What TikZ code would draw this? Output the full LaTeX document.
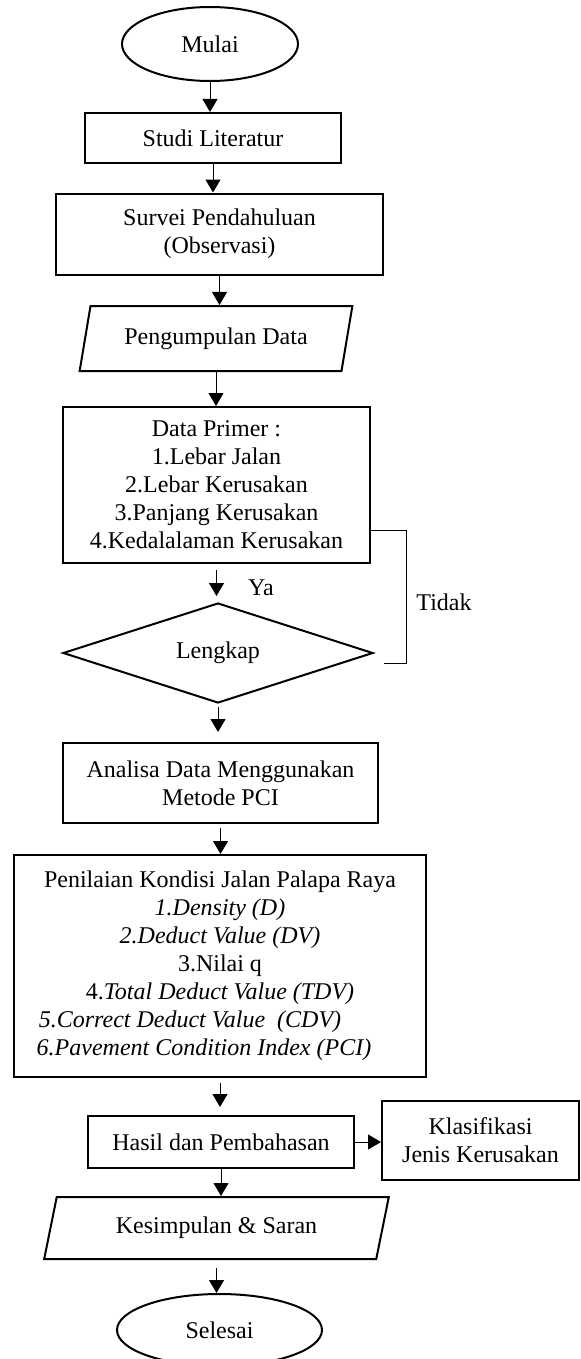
\documentclass[tikz,border=0pt]{standalone}
\usepackage{fontspec}
\setmainfont{Liberation Serif}
\usetikzlibrary{shapes.geometric,arrows.meta}
\begin{document}
\begin{tikzpicture}[x=0.5pt,y=-0.5pt,
    every node/.style={font=\fontsize{12pt}{14pt}\selectfont},
    box/.style={draw,line width=1pt,align=center,inner sep=0pt},
    term/.style={draw,ellipse,line width=1pt,inner sep=0pt},
    io/.style={draw,trapezium,trapezium left angle=70,trapezium right angle=110,
      trapezium stretches=true,line width=1pt,inner sep=0pt},
    test/.style={draw,diamond,line width=1pt,inner sep=0pt,aspect=3},
    arr/.style={-{Triangle[length=6.5pt,width=7.5pt]},line width=0.5pt}]
  \useasboundingbox (0,0) rectangle (580,1359);
  \draw
    (210,44) node[term,minimum width=88pt,minimum height=37pt] (mulai){Mulai}
    (213,138) node[box,minimum width=128pt,minimum height=25pt] (studi){Studi Literatur}
    (219.5,234) node[box,minimum width=163.5pt,minimum height=40.5pt] (survei){Survei Pendahuluan\\(Observasi)}
    (216,338.5) node[io,minimum width=137pt,minimum height=32.5pt] (peng){Pengumpulan Data}
    (216.5,485) node[box,minimum width=153.5pt,minimum height=78pt] (prim){Data Primer :\\1.Lebar Jalan\\2.Lebar Kerusakan\\3.Panjang Kerusakan\\4.Kedalalaman Kerusakan}
    (218,653) node[test,minimum width=155pt,minimum height=50pt] (lengkap){Lengkap}
    (220.5,783) node[box,minimum width=157.5pt,minimum height=40pt] (analisa){Analisa Data Menggunakan\\Metode PCI}
    (220,966) node[box,minimum width=206pt,minimum height=111pt] (nilai){Penilaian Kondisi Jalan Palapa Raya\\
      \textit{1.Density (D)}\\
      \textit{2.Deduct Value (DV)}\\
      3.Nilai q\\
      4.\textit{Total Deduct Value (TDV)}\\
      \textit{5.Correct Deduct Value~~(CDV)}\kern30pt\\
      \textit{6.Pavement Condition Index (PCI)}\kern16pt}
    (221,1142) node[box,minimum width=133pt,minimum height=26pt] (hasil){Hasil dan Pembahasan}
    (480.5,1140.5) node[box,minimum width=98.5pt,minimum height=39.5pt] (klas){Klasifikasi\\Jenis Kerusakan}
    (216.5,1228) node[io,minimum width=172.5pt,minimum height=31pt] (kes){Kesimpulan \& Saran}
    (219.5,1330) node[term,minimum width=102.5pt,minimum height=36pt] (selesai){Selesai};
  \node (ya) at (261,588) {Ya};
  \node (tidak) at (444,602) {Tidak};
  \coordinate (tk) at ([xshift=5pt,yshift=-5pt]lengkap.east);
  \begin{scope}[arr]
    \draw (mulai.south) -- (mulai.south |- studi.north);
    \draw (studi.south) -- (studi.south |- survei.north);
    \draw (survei.south) -- (survei.south |- peng.north);
    \draw (peng.south) -- (peng.south |- prim.north);
    \draw[shorten <=3pt,shorten >=3pt] (prim.south) -- (prim.south |- lengkap.north);
    \draw[shorten <=1.5pt,shorten >=5pt] (lengkap.south) -- (lengkap.south |- analisa.north);
    \draw[shorten <=2pt] (analisa.south) -- (analisa.south |- nilai.north);
    \draw[shorten <=2.5pt,shorten >=4pt] (nilai.south) -- (nilai.south |- hasil.north);
    \draw (hasil.south) -- (hasil.south |- kes.north);
    \draw[shorten <=4pt] (kes.south) -- (kes.south |- selesai.north);
    \draw (hasil.east) -- (klas.west |- hasil.east);
  \end{scope}
  \draw[line width=0.5pt] ([yshift=-22.5pt]prim.east) -- ++(35,0) |- (tk);
\end{tikzpicture}
\end{document}
